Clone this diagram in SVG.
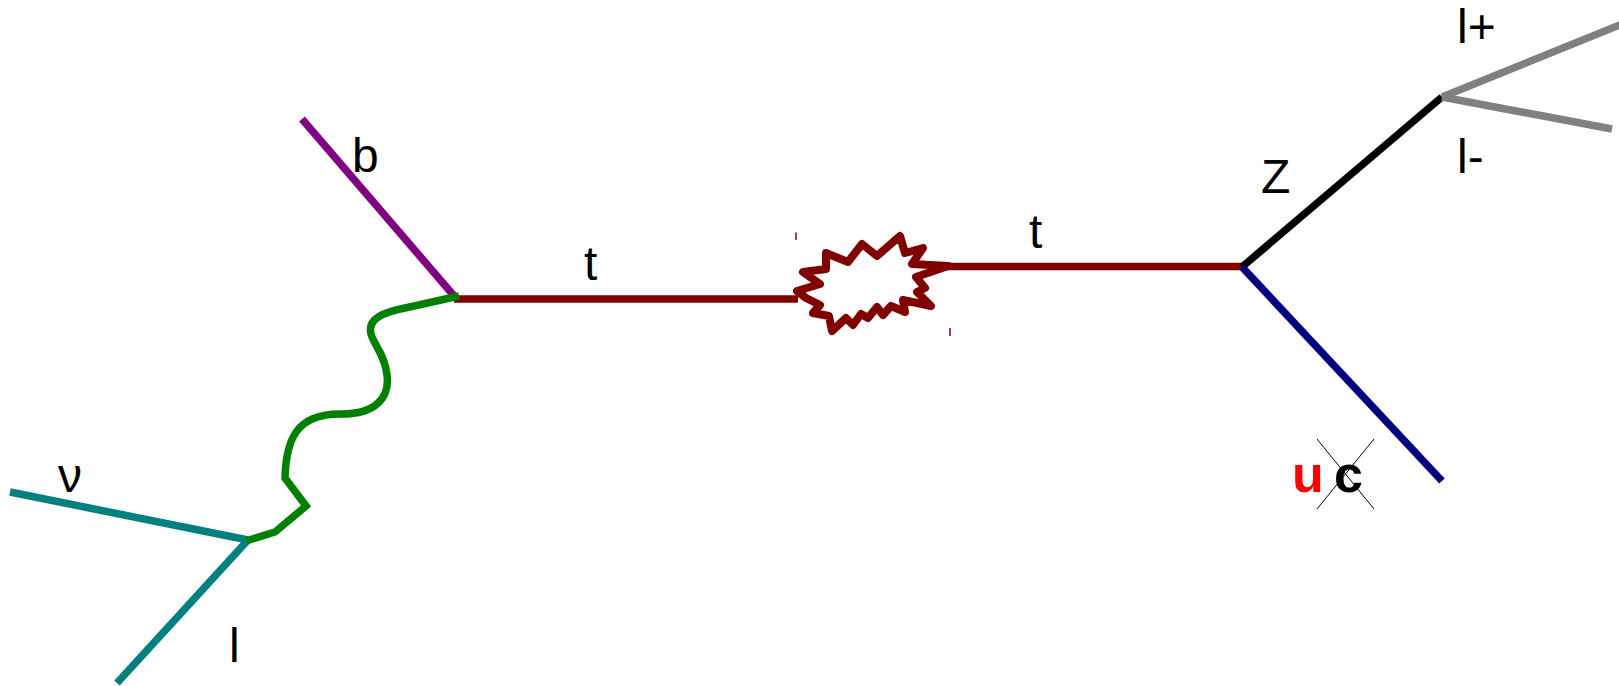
<svg xmlns="http://www.w3.org/2000/svg" width="1619" height="686" viewBox="0 0 1619 686">
<style>
.ln{fill:none;stroke-width:7.5;stroke-linecap:butt;stroke-linejoin:miter}
.star{fill:none;stroke:#800000;stroke-width:8;stroke-linejoin:round}
.lbl{font-family:"Liberation Sans",Arial,sans-serif;font-size:48px;fill:#000}
.bold{font-family:"Liberation Sans",Arial,sans-serif;font-size:52px;font-weight:bold}
</style>
<rect width="1619" height="686" fill="#fff"/>
<g id="connectors">
<line class="ln" x1="302" y1="119" x2="455" y2="297" stroke="#800080"/>
<line class="ln" x1="454" y1="299" x2="798" y2="299" stroke="#800000"/>
<path class="star" d="M797,291 L820,284 L803,272 L826,269 L826,253 L848,262 L862,244 L877,256 L900,236 L905,253 L923,248 L912,264 L948,266 L916,277 L925,288 L917,292 L931,306 L903,300 L905,312 L891,306 L883,315 L877,307 L868,318 L861,314 L853,325 L846,318 L832,331 L829,316 L813,313 L820,305 L806,298 Z"/>
<line x1="796" y1="232.5" x2="796" y2="240" stroke="#800000" stroke-width="1.5"/>
<line x1="950" y1="328" x2="950" y2="336" stroke="#800000" stroke-width="1.5"/>
<line class="ln" x1="946" y1="266.5" x2="1242" y2="266.5" stroke="#800000"/>
<line class="ln" x1="1242" y1="267" x2="1442" y2="97" stroke="#000"/>
<line class="ln" x1="1442" y1="97" x2="1622" y2="24" stroke="#808080"/>
<line class="ln" x1="1442" y1="97" x2="1612" y2="129" stroke="#808080"/>
<line class="ln" x1="1242" y1="267" x2="1442" y2="481" stroke="#000080"/>
<line class="ln" x1="10" y1="492" x2="248" y2="540" stroke="#008080"/>
<line class="ln" x1="248" y1="540" x2="117" y2="683" stroke="#008080"/>
<path class="ln" stroke="#008000" d="M246,541 L275,532 L306,506 L285,478 C286,440 296,413 342,414 C375,414 390,398 387,375 C385,355 374,345 371,334 C367,318 385,312 405,308 L459,296"/>
<line x1="1317" y1="439" x2="1374" y2="509" stroke="#000" stroke-width="1"/>
<line x1="1374" y1="439" x2="1317" y2="509" stroke="#000" stroke-width="1"/>
</g>
<g id="label-b"><text class="lbl" x="352" y="172">b</text></g>
<g id="label-t1"><text class="lbl" x="584" y="280">t</text></g>
<g id="label-t2"><text class="lbl" x="1029" y="248">t</text></g>
<g id="label-Z"><text class="lbl" x="1261" y="193">Z</text></g>
<g id="label-lplus"><text class="lbl" x="1457" y="43">l+</text></g>
<g id="label-lminus"><text class="lbl" x="1457" y="173">l-</text></g>
<g id="label-nu"><text class="lbl" x="58" y="492">ν</text></g>
<g id="label-l"><text class="lbl" x="229" y="662">l</text></g>
<g id="label-uc"><text class="bold" x="1292" y="492" fill="#ff0000">u</text><text class="bold" x="1334" y="492" fill="#000">c</text></g>
</svg>
